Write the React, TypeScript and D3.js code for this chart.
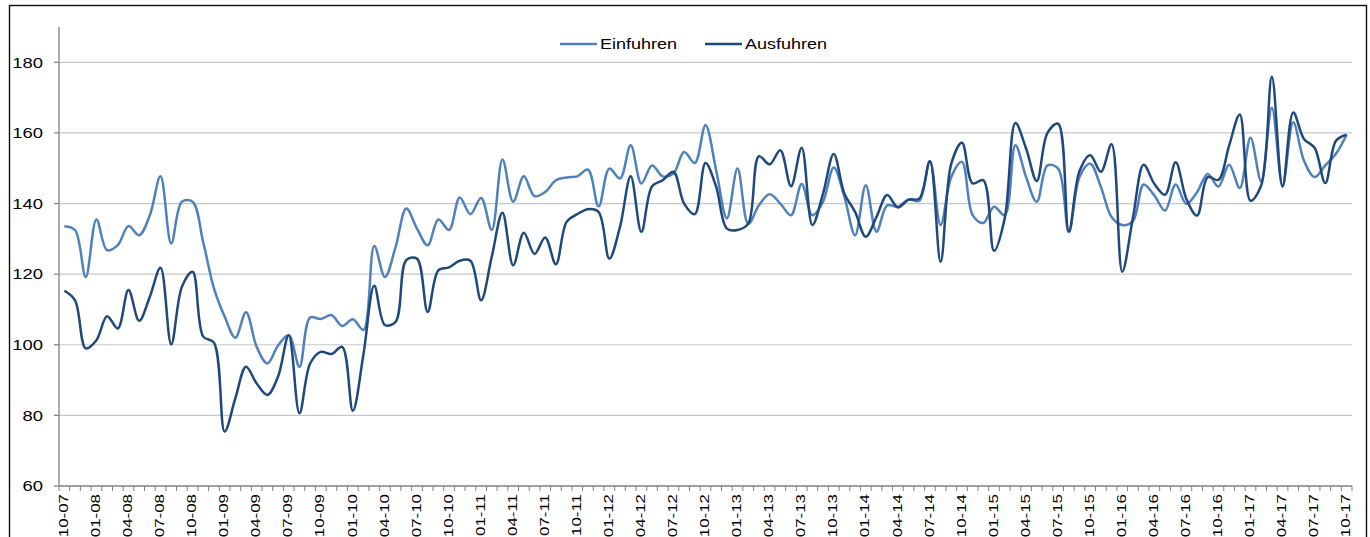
import React, { useEffect, useRef } from "react";
import * as d3 from "d3";

// monthly categories 10-07 ... 10-17
const months = d3.utcMonth.range(new Date(Date.UTC(2007, 9, 1)), new Date(Date.UTC(2017, 10, 1)));
const categories = months.map(d3.utcFormat("%m-%y"));

const yTicks = [60, 80, 100, 120, 140, 160, 180];

const einfuhren = [
  133.6, 132.5, 119.2, 135.5, 126.8, 128.2, 133.6, 131, 136.7, 147.7, 128.7, 140.5,
  140.5, 129, 116, 108, 102, 109.2, 99.4, 94.7, 99.8, 102.7, 93.8, 107.7,
  107.3, 108.4, 105.3, 107.2, 104.2, 128, 119.2, 127.7, 138.6, 132.9, 128.2, 135.5,
  132.5, 141.7, 137, 141.6, 132.5, 152.5, 140.5, 147.7, 142.1, 143.3, 146.6, 147.4,
  147.7, 149.6, 139.2, 149.9, 147.1, 156.5, 145.7, 150.8, 147.7, 148.5, 154.6, 151.5,
  162.2, 149.4, 135.8, 149.9, 134.2, 139.5, 142.6, 140, 136.7, 145.5, 136.7, 140.5,
  150.2, 141.9, 131, 145.2, 132, 139.5, 139.1, 141.1, 140.8, 152, 133.9, 147.5,
  151.8, 136.7, 134.5, 139.1, 136.7, 156.5, 147.5, 140.5, 150.8, 149.9, 132, 147.5,
  151.3, 144.7, 136.2, 133.9, 135, 145.4, 142.3, 138, 145.4, 139.9, 143.2, 148.4,
  144.8, 151, 144.4, 158.6, 146.3, 167.1, 145.1, 163, 152.2, 147.5, 150.8, 154.1,
  159.5
];

const ausfuhren = [
  115.3, 112.6, 99, 101.3, 108.1, 104.6, 115.5, 106.8, 113.6, 121.8, 100.1, 116.4,
  120.7, 102.3, 100.6, 75.4, 84.8, 93.8, 89, 85.8, 91, 102.7, 80.6, 94.7,
  98, 97.4, 99.4, 81.3, 97.5, 116.7, 105.6, 106.5, 124, 124.4, 109.3, 121.1,
  121.9, 123.8, 123.8, 112.6, 125, 137.4, 122.5, 131.7, 125.7, 130.4, 122.8, 134.8,
  137, 138.4, 137.6, 124.4, 133.4, 147.7, 132, 144.9, 146.6, 149, 140, 137,
  151.5, 144.7, 132.9, 132.5, 134.3, 153.4, 151.1, 155.1, 144.9, 155.8, 133.9, 142.8,
  154, 142.8, 137.6, 130.6, 136.2, 142.4, 138.9, 141.1, 141.4, 152, 123.5, 151.3,
  157.2, 145.7, 146.6, 126.6, 135.8, 162.8, 155.6, 146.4, 160, 162.6, 132, 149.2,
  153.7, 149, 156.8, 120.7, 136, 151, 145.6, 142.5, 151.7, 141.3, 136.6, 147.5,
  146.7, 156.4, 165.2, 140.8, 145.1, 175.9, 144.8, 165.8, 158.3, 155.8, 145.8, 157.8,
  159.5
];

const series = [
  { name: "Einfuhren", values: einfuhren, color: "#4F81BD" },
  { name: "Ausfuhren", values: ausfuhren, color: "#1F497D" }
];

const width = 1370;
const height = 537;
const margin = { left: 59, right: 18, top: 27, bottom: 51 };
const font = "'Liberation Sans', Arial, sans-serif";

const App = () => {
  const chart = useRef<SVGSVGElement>(null);

  useEffect(() => {
    const svg = d3.select(chart.current);
    svg.selectAll("*").remove();

    const x = d3
      .scaleBand()
      .domain(categories)
      .range([margin.left, width - margin.right])
      .paddingInner(0)
      .paddingOuter(0);
    const y = d3.scaleLinear().domain([60, 190]).range([height - margin.bottom, margin.top]);
    const cx = (c: string) => (x(c) as number) + x.bandwidth() / 2;
    const y0 = y(60);

    // outer frame
    svg
      .append("rect")
      .attr("x", 9.5)
      .attr("y", 5.5)
      .attr("width", 1357)
      .attr("height", 600)
      .attr("fill", "none")
      .attr("stroke", "#111")
      .attr("stroke-width", 1.4);

    // gridlines
    svg
      .append("g")
      .selectAll("line")
      .data(yTicks.filter(t => t > 60))
      .join("line")
      .attr("x1", margin.left)
      .attr("x2", width - margin.right)
      .attr("y1", d => y(d))
      .attr("y2", d => y(d))
      .attr("stroke", "#c8c8c8")
      .attr("stroke-width", 1.2);

    // y axis
    const yAxis = svg.append("g");
    yAxis
      .append("line")
      .attr("x1", margin.left)
      .attr("x2", margin.left)
      .attr("y1", y(190))
      .attr("y2", y0)
      .attr("stroke", "#808080")
      .attr("stroke-width", 1.3);
    yAxis
      .selectAll("line.tick")
      .data(yTicks)
      .join("line")
      .attr("class", "tick")
      .attr("x1", margin.left - 5)
      .attr("x2", margin.left)
      .attr("y1", d => y(d))
      .attr("y2", d => y(d))
      .attr("stroke", "#808080")
      .attr("stroke-width", 1.2);
    yAxis
      .selectAll("text")
      .data(yTicks)
      .join("text")
      .attr("transform", d => `translate(${margin.left - 16},${y(d)}) scale(1.27,1)`)
      .attr("dy", "0.36em")
      .attr("text-anchor", "end")
      .attr("font-family", font)
      .attr("font-size", 14.5)
      .attr("fill", "#000")
      .text(d => d);

    // x axis
    const xAxis = svg.append("g");
    xAxis
      .append("line")
      .attr("x1", margin.left)
      .attr("x2", width - margin.right)
      .attr("y1", y0)
      .attr("y2", y0)
      .attr("stroke", "#808080")
      .attr("stroke-width", 1.3);
    xAxis
      .selectAll("line.tick")
      .data([...categories.map(c => x(c) as number), width - margin.right])
      .join("line")
      .attr("class", "tick")
      .attr("x1", d => d)
      .attr("x2", d => d)
      .attr("y1", y0)
      .attr("y2", y0 + 5)
      .attr("stroke", "#808080")
      .attr("stroke-width", 1);
    xAxis
      .selectAll("text")
      .data(categories.filter((_, i) => i % 3 === 0))
      .join("text")
      .attr("transform", d => `translate(${cx(d) - 1},${y0 + 8}) rotate(-90) scale(1.3,1)`)
      .attr("dy", "0.36em")
      .attr("text-anchor", "end")
      .attr("font-family", font)
      .attr("font-size", 13)
      .attr("fill", "#000")
      .text(d => d);

    // lines
    const line = d3
      .line<number>()
      .x((_, i) => cx(categories[i]))
      .y(d => y(d))
      .curve(d3.curveCatmullRom.alpha(0.5));

    svg
      .append("g")
      .selectAll("path")
      .data(series)
      .join("path")
      .attr("d", d => line(d.values))
      .attr("fill", "none")
      .attr("stroke", d => d.color)
      .attr("stroke-width", 2.5)
      .attr("stroke-linejoin", "round");

    // legend
    const legendX = [560, 705];
    const legend = svg
      .append("g")
      .selectAll("g")
      .data(series)
      .join("g")
      .attr("transform", (d, i) => `translate(${legendX[i]},44)`);
    legend
      .append("line")
      .attr("x1", 0)
      .attr("x2", 37)
      .attr("stroke", d => d.color)
      .attr("stroke-width", 2.5);
    legend
      .append("text")
      .attr("transform", "translate(40,0) scale(1.2,1)")
      .attr("dy", "0.36em")
      .attr("font-family", font)
      .attr("font-size", 15)
      .attr("fill", "#000")
      .text(d => d.name);
  }, []);

  return (
    <div style={{ position: "absolute", left: 0, top: 0, background: "#fff" }}>
      <svg ref={chart} width={width} height={height} viewBox={`0 0 ${width} ${height}`} style={{ display: "block" }}></svg>
    </div>
  );
};

export default App;
